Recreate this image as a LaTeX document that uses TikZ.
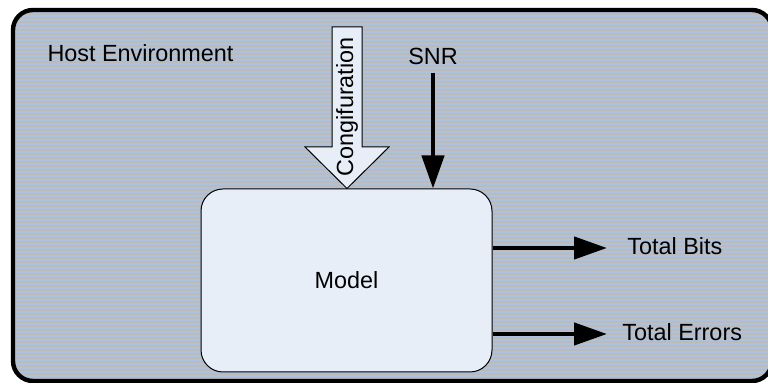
\documentclass[tikz,border=0pt]{standalone}
\usepackage{fontspec}
\setmainfont{Liberation Sans}
\usetikzlibrary{arrows.meta}

\definecolor{hostgray}{RGB}{187,187,187}
\definecolor{hostblue}{RGB}{174,194,222}
\definecolor{modelfill}{RGB}{232,238,248}

\tikzset{
  lbl/.style={font=\fontsize{11.7}{13}\selectfont, inner sep=0pt},
  modelbox/.style={draw, line width=0.5pt, fill=modelfill, rounded corners=11pt,
    minimum width=145.5pt, minimum height=91.5pt},
  sigarrow/.style={line width=2.2pt, -{Triangle[length=16.5pt,width=11pt]}},
}

\begin{document}
\begin{tikzpicture}[x=0.5pt, y=-0.5pt]
    \useasboundingbox (0,0) rectangle (768,383);
    \clip (0,0) rectangle (768,383);
    % host environment with striped fill
    \fill[hostgray, rounded corners=10pt] (13,10) rectangle (772,381);
    \begin{scope}
      \clip[rounded corners=10pt] (13,10) rectangle (772,381);
      \foreach \y in {12,16,...,380}
        \draw[hostblue, line width=0.7pt] (13,\y) -- (772,\y);
    \end{scope}
    \draw[line width=2.2pt, rounded corners=10pt] (13,10) rectangle (772,381);
    \node[lbl] (host) at (140.5,53) {Host Environment};
	% model
    \node[modelbox, lbl] (model) at (346.5,280.5) {Model};
	% configuration input
    \draw[line width=0.5pt, fill=modelfill] (332,27) -- (362,27) -- (362,147) -- (389,147)
      -- (model.north -| 347,0) -- (305,147) -- (332,147) -- cycle;
    \node[lbl, rotate=90] (config) at (347,107) {Congifuration};
	% SNR input
    \node[lbl] (snr) at (433,56) {SNR};
    \coordinate (snrin) at (model.north -| snr);
    \draw[sigarrow] ([yshift=-4pt]snr.south) -- (snrin);
	% outputs
    \coordinate (bitsout) at (model.east |- 0,248);
    \coordinate (errout) at (model.east |- 0,334);
    \node[lbl, anchor=west] (bits) at (627,246) {Total Bits};
    \node[lbl, anchor=west] (errors) at (622,332) {Total Errors};
    \draw[sigarrow] (bitsout) -- (bitsout -| 607,0);
    \draw[sigarrow] (errout) -- (errout -| 607,0);
\end{tikzpicture}
\end{document}
